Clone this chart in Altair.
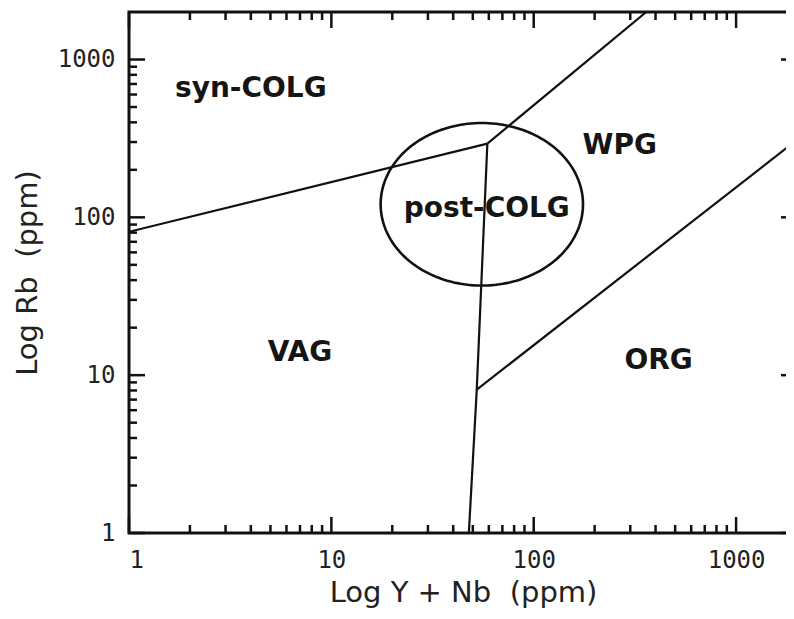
import altair as alt
import numpy as np
import pandas as pd

# ---- data ----
X_DOMAIN = [1, 2000]
Y_DOMAIN = [1, 2000]
MAJOR_TICKS = [1, 10, 100, 1000]

# boundary segments (Y+Nb, Rb)
seg_names = ["A", "A", "B", "B", "C", "C", "C", "D", "D"]
seg_x = [1, 59, 59, 360, 59, 52.3, 47.8, 52.3, 2000]
seg_y = [81, 293, 293, 2000, 293, 8.1, 1, 8.1, 310]

# post-COLG ellipse (centre in ppm, radii in log decades)
ell_cx, ell_cy = 55.4, 121
ell_rx, ell_ry = 0.50, 0.515

# field labels
field_names = ["syn-COLG", "WPG", "post-COLG", "VAG", "ORG"]
field_x = [4.0, 266, 58.6, 7.0, 414]
field_y = [650, 282, 113, 13.8, 12.3]

W, H = 668, 521

seg_df = pd.DataFrame({"seg": seg_names, "x": seg_x, "y": seg_y,
                       "o": list(range(len(seg_x)))})
t = np.linspace(0, 2 * np.pi, 181)
ell_df = pd.DataFrame({
    "x": 10 ** (np.log10(ell_cx) + ell_rx * np.cos(t)),
    "y": 10 ** (np.log10(ell_cy) + ell_ry * np.sin(t)),
    "o": np.arange(len(t)),
})
lab_df = pd.DataFrame({"name": field_names, "x": field_x, "y": field_y})

minor = [m * 10 ** k for k in range(4) for m in range(2, 10)]
xt = pd.DataFrame({"v": [v for v in MAJOR_TICKS + minor if X_DOMAIN[0] <= v < X_DOMAIN[1]]})
xt["len"] = [16 if v in MAJOR_TICKS else 8 for v in xt["v"]]
yt = pd.DataFrame({"v": [v for v in MAJOR_TICKS + minor if Y_DOMAIN[0] <= v < Y_DOMAIN[1]]})
yt["len"] = [16 if v in MAJOR_TICKS else 8 for v in yt["v"]]

xs = alt.Scale(type="log", domain=X_DOMAIN, nice=False)
ys = alt.Scale(type="log", domain=Y_DOMAIN, nice=False)

xaxis = alt.Axis(values=MAJOR_TICKS, format="d", ticks=False, tickSize=0, domain=False,
                 grid=False, labelFont="DejaVu Sans Mono", labelFontSize=24,
                 labelColor="#222", labelPadding=15, labelOverlap=False,
                 title="Log Y + Nb\u00a0 (ppm)", titleFont="DejaVu Sans",
                 titleFontSize=29, titleFontWeight="normal", titleColor="#222",
                 titlePadding=6)
yaxis = alt.Axis(values=MAJOR_TICKS, format="d", ticks=False, tickSize=0, domain=False,
                 grid=False, labelFont="DejaVu Sans Mono", labelFontSize=24,
                 labelColor="#222", labelPadding=14, labelOverlap=False,
                 title="Log Rb\u00a0 (ppm)", titleFont="DejaVu Sans",
                 titleFontSize=29, titleFontWeight="normal", titleColor="#222",
                 titlePadding=15)

lines = alt.Chart(seg_df).mark_line(color="#111", strokeWidth=2.2, clip=True).encode(
    x=alt.X("x:Q", scale=xs, axis=xaxis),
    y=alt.Y("y:Q", scale=ys, axis=yaxis),
    detail="seg:N", order="o:Q")

ellipse = alt.Chart(ell_df).mark_line(color="#111", strokeWidth=2.6, clip=True).encode(
    x=alt.X("x:Q", scale=xs), y=alt.Y("y:Q", scale=ys), order="o:Q")

labels = alt.Chart(lab_df).mark_text(font="DejaVu Sans", fontSize=28, fontWeight="bold",
                                     color="#151515", baseline="middle").encode(
    x=alt.X("x:Q", scale=xs), y=alt.Y("y:Q", scale=ys), text="name:N")

layers = [lines, ellipse, labels]

# ticks: one rule layer per length and side (all pointing inward)
for L in (16, 8):
    sub_x = xt[xt["len"] == L]
    sub_y = yt[yt["len"] == L]
    layers.append(alt.Chart(sub_x).mark_rule(color="#111", strokeWidth=2.5).encode(
        x=alt.X("v:Q", scale=xs), y=alt.value(H), y2=alt.value(H - L)))
    layers.append(alt.Chart(sub_x).mark_rule(color="#111", strokeWidth=2.5).encode(
        x=alt.X("v:Q", scale=xs), y=alt.value(0), y2=alt.value(L)))
    layers.append(alt.Chart(sub_y).mark_rule(color="#111", strokeWidth=2.5).encode(
        y=alt.Y("v:Q", scale=ys), x=alt.value(0), x2=alt.value(L)))
    layers.append(alt.Chart(sub_y).mark_rule(color="#111", strokeWidth=2.5).encode(
        y=alt.Y("v:Q", scale=ys), x=alt.value(W), x2=alt.value(W - L)))

chart = alt.layer(*layers).properties(
    width=W, height=H,
    background="white",
    autosize=alt.AutoSizeParams(type="none"),
    padding={"left": 121, "top": 4, "right": -11, "bottom": 76},
).configure_view(stroke="#111", strokeWidth=3)

chart.save("out.html", embed_options={"renderer": "svg", "actions": False})
